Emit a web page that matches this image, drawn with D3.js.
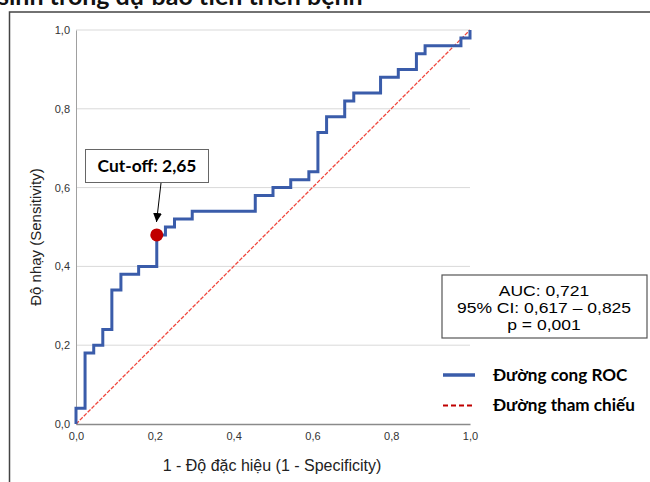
<!DOCTYPE html>
<html>
<head>
<meta charset="utf-8">
<script src="https://cdn.jsdelivr.net/npm/d3@7"></script>
<style>
html,body{margin:0;padding:0;background:#fff;}
svg{display:block;}
</style>
</head>
<body>
<svg id="chart" width="650" height="482"></svg>
<script>
// ROC curve corner points (step-before: vertical at previous x, then horizontal)
const rocFpr = [0, 0.023, 0.045, 0.068, 0.091, 0.114, 0.159, 0.205, 0.227, 0.250, 0.295, 0.455, 0.500, 0.545, 0.591, 0.614, 0.636, 0.682, 0.705, 0.773, 0.818, 0.864, 0.886, 0.977, 1.000, 1.000];
const rocTpr = [0, 0.04, 0.18, 0.20, 0.24, 0.34, 0.38, 0.40, 0.48, 0.50, 0.52, 0.54, 0.58, 0.60, 0.62, 0.64, 0.74, 0.78, 0.82, 0.84, 0.88, 0.90, 0.94, 0.96, 0.98, 1.00];
const refX = [0, 1];
const refY = [0, 1];
const cutoffPoint = [0.205, 0.48];
const cutoffLabel = "Cut-off: 2,65";
const tickValues = [0, 0.2, 0.4, 0.6, 0.8, 1.0];
const statLines = ["AUC: 0,721", "95% CI: 0,617 – 0,825", "p = 0,001"];
const legendLabels = ["Đường cong ROC", "Đường tham chiếu"];
const titleText = "sinh trong dự báo tiến triển bệnh";
const xTitle = "1 - Độ đặc hiệu (1 - Specificity)";
const yTitle = "Độ nhạy (Sensitivity)";

const svg = d3.select("#chart");
const x = d3.scaleLinear().domain([0, 1]).range([76, 470]);
const y = d3.scaleLinear().domain([0, 1]).range([424, 30]);
const fmt = d => d3.format(".1f")(d).replace(".", ",");

// partial title at top (cut off, as in the source figure)
svg.append("text").attr("x", -2).attr("y", 5)
  .attr("font-family", "Lato, 'Open Sans', sans-serif").attr("font-weight", "bold")
  .attr("font-size", 25).attr("fill", "#111").text(titleText);

// frame
svg.append("path").attr("d", "M9.5,482 V12 H650").attr("fill", "none")
  .attr("stroke", "#444").attr("stroke-width", 1.5);

// gridlines
svg.append("g").selectAll("line").data(tickValues.filter(d => d > 0)).join("line")
  .attr("x1", x(0)).attr("x2", x(1)).attr("y1", d => y(d)).attr("y2", d => y(d))
  .attr("stroke", "#d9d9d9").attr("stroke-width", 1);

// axes
const gy = svg.append("g").attr("transform", `translate(${x(0)},0)`)
  .call(d3.axisLeft(y).tickValues(tickValues).tickFormat(fmt).tickSize(0).tickPadding(6));
const gx = svg.append("g").attr("transform", `translate(0,${y(0)})`)
  .call(d3.axisBottom(x).tickValues(tickValues).tickFormat(fmt).tickSize(0).tickPadding(8));
[gx, gy].forEach(g => {
  g.selectAll("text").attr("font-family", "Arial, 'Liberation Sans', sans-serif")
    .attr("font-size", 11).attr("fill", "#333");
});
gy.select(".domain").attr("stroke", "#a0a0a0").attr("stroke-width", 1);
gx.select(".domain").attr("stroke", "#8a8a8a").attr("stroke-width", 1.5);

// reference diagonal
const pts = (xs, ys) => xs.map((v, i) => [v, ys[i]]);
svg.append("path").datum(pts(refX, refY))
  .attr("d", d3.line().x(d => x(d[0])).y(d => y(d[1])))
  .style("fill", "none").style("stroke", "#f0463c").style("stroke-width", 1.3)
  .style("stroke-dasharray", "4,1.5");

// ROC curve
svg.append("path").datum(pts(rocFpr, rocTpr))
  .attr("d", d3.line().x(d => x(d[0])).y(d => y(d[1])).curve(d3.curveStepBefore))
  .attr("fill", "none").attr("stroke", "#3a5caa").attr("stroke-width", 3)
  .attr("stroke-linejoin", "miter");

// cut-off point
svg.append("circle").attr("cx", x(cutoffPoint[0])).attr("cy", y(cutoffPoint[1]))
  .attr("r", 6.5).attr("fill", "#c00000");

// cut-off annotation
svg.append("defs").append("marker").attr("id", "arr").attr("viewBox", "0 0 10 10")
  .attr("refX", 10).attr("refY", 5).attr("markerWidth", 9).attr("markerHeight", 9)
  .attr("markerUnits", "userSpaceOnUse").attr("orient", "auto")
  .append("path").attr("d", "M0,0 L10,5 L0,10 z").attr("fill", "#000");
svg.append("line").attr("x1", 161).attr("y1", 183).attr("x2", 156.5).attr("y2", 222)
  .attr("stroke", "#000").attr("stroke-width", 1).attr("marker-end", "url(#arr)");
svg.append("rect").attr("x", 85.5).attr("y", 149.5).attr("width", 123).attr("height", 33)
  .attr("fill", "#fff").attr("stroke", "#666").attr("stroke-width", 1);
svg.append("text").attr("x", 147).attr("y", 172).attr("text-anchor", "middle")
  .attr("font-family", "Lato, 'Open Sans', sans-serif").attr("font-weight", "bold")
  .attr("font-size", 17.4).attr("fill", "#000").text(cutoffLabel);

// stats box
svg.append("rect").attr("x", 442).attr("y", 275).attr("width", 205).attr("height", 63)
  .attr("fill", "#fff").attr("stroke", "#555").attr("stroke-width", 1.2);
svg.append("g").attr("transform", "translate(544,0) scale(1.2,1)")
  .selectAll("text").data(statLines).join("text")
  .attr("x", 0).attr("y", (d, i) => 296.5 + i * 17).attr("text-anchor", "middle")
  .attr("font-family", "Arial, 'Liberation Sans', sans-serif").attr("font-size", 14.6)
  .attr("fill", "#000").text(d => d);

// legend
const lg = svg.append("g");
lg.append("line").attr("x1", 443).attr("x2", 475).attr("y1", 375).attr("y2", 375)
  .attr("stroke", "#3a5caa").attr("stroke-width", 3.5);
lg.append("line").attr("x1", 443).attr("x2", 475).attr("y1", 405.5).attr("y2", 405.5)
  .style("stroke", "#c00000").style("stroke-width", 2).style("stroke-dasharray", "5,3");
lg.selectAll("text").data(legendLabels).join("text")
  .attr("x", 493).attr("y", (d, i) => 380.5 + i * 30.5)
  .attr("font-family", "Lato, 'Open Sans', sans-serif").attr("font-weight", "bold")
  .attr("font-size", 17.1).attr("fill", "#000").text(d => d);

// axis titles
svg.append("text").attr("x", 272).attr("y", 471).attr("text-anchor", "middle")
  .attr("font-family", "Arial, 'Liberation Sans', sans-serif").attr("font-size", 16)
  .attr("fill", "#222").text(xTitle);
svg.append("text").attr("transform", "translate(41,237) rotate(-90)").attr("text-anchor", "middle")
  .attr("font-family", "Arial, 'Liberation Sans', sans-serif").attr("font-size", 15)
  .attr("fill", "#222").text(yTitle);
</script>
</body>
</html>
